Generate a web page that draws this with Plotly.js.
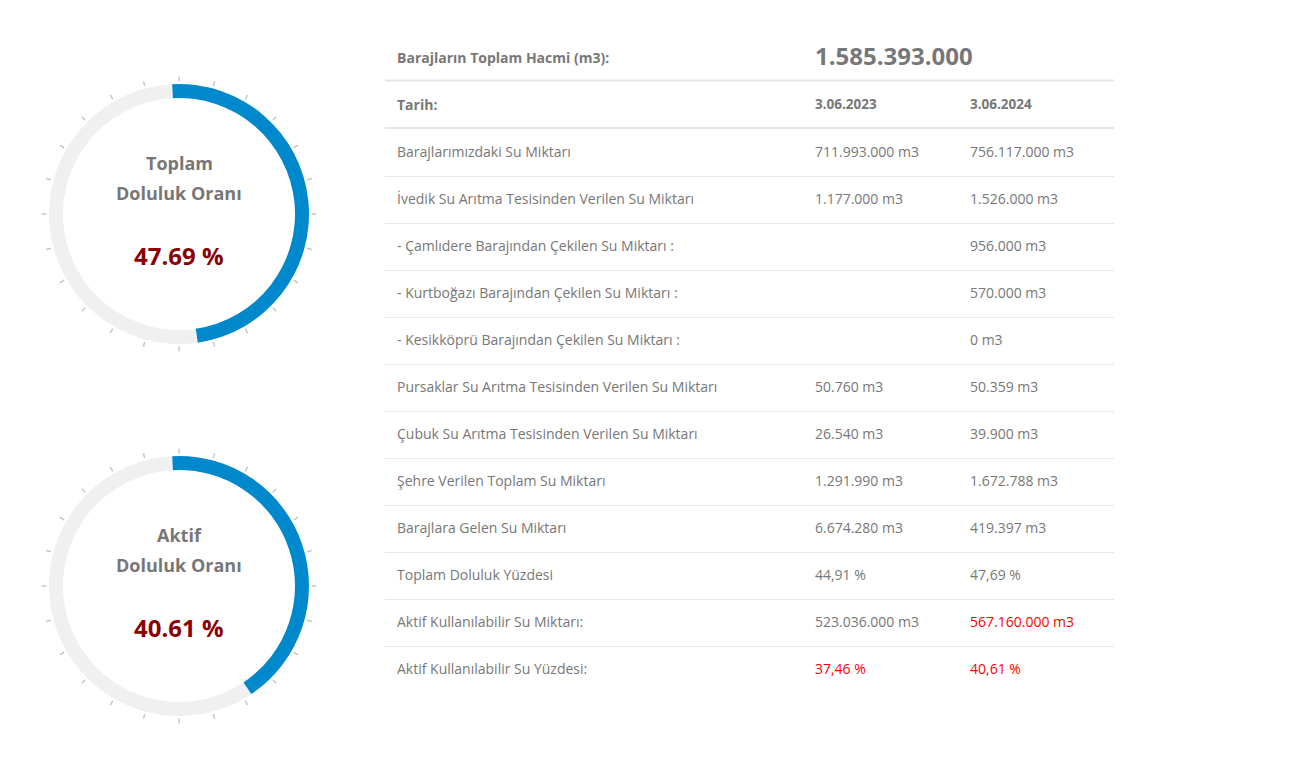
<!DOCTYPE html>
<html>
<head>
<meta charset="utf-8">
<script src="https://cdn.plot.ly/plotly-3.0.1.min.js"></script>
<style>html,body{margin:0;padding:0;background:#fff;}#chart{width:1299px;height:772px;}</style>
</head>
<body>
<div id="chart"></div>
<script>
// ---------- DATA ----------
const gaugeTitleLine1 = ['Toplam', 'Aktif'];
const gaugeTitleLine2 = ['Doluluk Oranı', 'Doluluk Oranı'];
const gaugeValues = [47.69, 40.61];

const totalVolumeLabel = 'Barajların Toplam Hacmi (m3):';
const totalVolume = '1.585.393.000';
const dateLabel = 'Tarih:';
const dates = ['3.06.2023', '3.06.2024'];

const rowLabels = [
  'Barajlarımızdaki Su Miktarı',
  'İvedik Su Arıtma Tesisinden Verilen Su Miktarı',
  '- Çamlıdere Barajından Çekilen Su Miktarı :',
  '- Kurtboğazı Barajından Çekilen Su Miktarı :',
  '- Kesikköprü Barajından Çekilen Su Miktarı :',
  'Pursaklar Su Arıtma Tesisinden Verilen Su Miktarı',
  'Çubuk Su Arıtma Tesisinden Verilen Su Miktarı',
  'Şehre Verilen Toplam Su Miktarı',
  'Barajlara Gelen Su Miktarı',
  'Toplam Doluluk Yüzdesi',
  'Aktif Kullanılabilir Su Miktarı:',
  'Aktif Kullanılabilir Su Yüzdesi:'
];
const values2023 = [
  '711.993.000 m3', '1.177.000 m3', '', '', '',
  '50.760 m3', '26.540 m3', '1.291.990 m3', '6.674.280 m3',
  '44,91 %', '523.036.000 m3', '37,46 %'
];
const values2024 = [
  '756.117.000 m3', '1.526.000 m3', '956.000 m3', '570.000 m3', '0 m3',
  '50.359 m3', '39.900 m3', '1.672.788 m3', '419.397 m3',
  '47,69 %', '567.160.000 m3', '40,61 %'
];
// rows (index into rowLabels) shown highlighted in each year column
const highlighted2023 = [11];
const highlighted2024 = [10, 11];

// ---------- STYLE / LAYOUT CONSTANTS ----------
const W = 1299, H = 772;
const BLUE = '#0088cc', TRACK = '#f0f0f0', TICK = '#c8c8c8';
const GRAY = '#777777', DARKRED = '#8b0000', RED = '#ff0000';
const FONT = 'Open Sans, sans-serif';

const gaugeCenters = [{x: 179, y: 214}, {x: 179, y: 586}];
const POLAR_R = 132;          // radius of polar area (tick base)
const RING_OUT = 130, RING_W = 14;
const ARC_LEAD = 3;           // the filled arc starts slightly before 12 o'clock

const tableLeft = 385, tableRight = 1114;
const tableTop = 35.5, rowH = 47;
const COL_X = [0.0165, 0.5898, 0.8025];
const HEADER_RULES = [[-0.553, 1.2], [0.457, 2], [1.468, 2]];

// ---------- BUILD ----------
const traces = [];
const layout = {
  width: W, height: H,
  margin: {l: 0, r: 0, t: 0, b: 0},
  paper_bgcolor: '#fff', plot_bgcolor: 'rgba(0,0,0,0)',
  showlegend: false,
  font: {family: FONT, color: GRAY},
  annotations: [],
  shapes: []
};

gaugeValues.forEach((v, i) => {
  const pid = i === 0 ? 'polar' : 'polar' + (i + 1);
  const c = gaugeCenters[i];
  const filledDeg = v * 3.6;
  const fillStart = -ARC_LEAD;
  traces.push({
    type: 'barpolar', subplot: pid,
    r: [RING_W, RING_W],
    base: [RING_OUT - RING_W, RING_OUT - RING_W],
    theta: [filledDeg + (360 - filledDeg) / 2, (fillStart + filledDeg) / 2],
    width: [360 - filledDeg, filledDeg - fillStart],
    marker: {color: [TRACK, BLUE], line: {width: 0}},
    hoverinfo: 'skip'
  });
  layout[pid] = {
    domain: {
      x: [(c.x - POLAR_R) / W, (c.x + POLAR_R) / W],
      y: [1 - (c.y + POLAR_R) / H, 1 - (c.y - POLAR_R) / H]
    },
    bgcolor: 'rgba(0,0,0,0)',
    radialaxis: {visible: false, range: [0, POLAR_R]},
    angularaxis: {
      rotation: 90, direction: 'clockwise',
      tickmode: 'linear', tick0: 0, dtick: 15,
      ticks: 'outside', ticklen: 5, tickwidth: 1.5, tickcolor: TICK,
      showticklabels: false, showline: false, showgrid: false
    }
  };
  layout.annotations.push(
    {xref: 'paper', yref: 'paper', x: c.x / W, y: 1 - (c.y - 51) / H, xanchor: 'center', yanchor: 'middle',
     text: '<b>' + gaugeTitleLine1[i] + '</b>', showarrow: false, font: {size: 18, color: GRAY, family: FONT}},
    {xref: 'paper', yref: 'paper', x: c.x / W, y: 1 - (c.y - 21) / H, xanchor: 'center', yanchor: 'middle',
     text: '<b>' + gaugeTitleLine2[i] + '</b>', showarrow: false, font: {size: 18, color: GRAY, family: FONT}},
    {xref: 'paper', yref: 'paper', x: c.x / W, y: 1 - (c.y + 41) / H, xanchor: 'center', yanchor: 'middle',
     text: '<b>' + v.toFixed(2) + ' %</b>', showarrow: false, font: {size: 24, color: DARKRED, family: FONT}}
  );
});

// ---------- TABLE ----------
const nRows = rowLabels.length + 2;
const rowIdx = Array.from({length: nRows}, (_, k) => k);
const colTrace = (col, texts, sizes, colors) => ({
  type: 'scatter', mode: 'text', xaxis: 'x', yaxis: 'y',
  x: rowIdx.map(() => COL_X[col]), y: rowIdx,
  text: texts, textposition: 'middle right',
  textfont: {family: FONT, size: sizes, color: colors},
  marker: {size: 0}, hoverinfo: 'skip', cliponaxis: false
});

traces.push(colTrace(0,
  ['<b>' + totalVolumeLabel + '</b>', '<b>' + dateLabel + '</b>'].concat(rowLabels),
  [14, 14].concat(rowLabels.map(() => 14)),
  [GRAY, GRAY].concat(rowLabels.map(() => GRAY))
));
traces.push(colTrace(1,
  ['<b>' + totalVolume + '</b>', '<b>' + dates[0] + '</b>'].concat(values2023),
  [24, 13.5].concat(values2023.map(() => 14)),
  [GRAY, GRAY].concat(values2023.map((_, k) => highlighted2023.includes(k) ? RED : GRAY))
));
traces.push(colTrace(2,
  ['', '<b>' + dates[1] + '</b>'].concat(values2024),
  [14, 13.5].concat(values2024.map(() => 14)),
  [GRAY, GRAY].concat(values2024.map((_, k) => highlighted2024.includes(k) ? RED : GRAY))
));

const tableBottom = tableTop + nRows * rowH;
layout.xaxis = {
  domain: [tableLeft / W, tableRight / W], range: [0, 1],
  showgrid: false, zeroline: false, showticklabels: false, showline: false, ticks: '', fixedrange: true
};
layout.yaxis = {
  domain: [1 - tableBottom / H, 1 - tableTop / H],
  range: [nRows - 0.5, -0.5],
  tickmode: 'array',
  tickvals: rowIdx.slice(2, nRows - 1).map(k => k + 0.5),
  showgrid: true, gridcolor: '#e8e8e8', gridwidth: 1,
  zeroline: false, showticklabels: false, showline: false, ticks: '', fixedrange: true
};
// header borders (top rule and the two thicker header separators)
HEADER_RULES.forEach(([yv, w]) => {
  layout.shapes.push({type: 'line', xref: 'x domain', yref: 'y', x0: 0, x1: 1, y0: yv, y1: yv,
    line: {color: '#e6e6e6', width: w}});
});

Plotly.newPlot('chart', traces, layout, {staticPlot: true, displayModeBar: false});
</script>
</body>
</html>
